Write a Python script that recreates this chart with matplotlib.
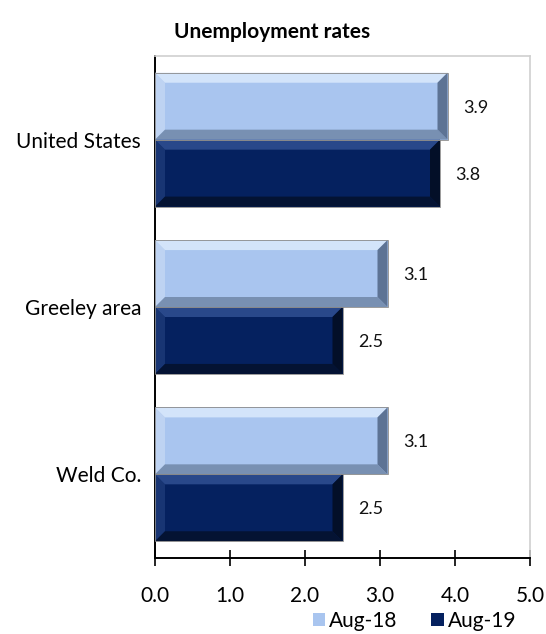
import matplotlib.pyplot as plt
from matplotlib.patches import Polygon
import numpy as np

plt.rcParams['font.family'] = ['Lato', 'DejaVu Sans']

categories = ['United States', 'Greeley area', 'Weld Co.']
aug18 = [3.9, 3.1, 3.1]
aug19 = [3.8, 2.5, 2.5]
series_names = ['Aug-18', 'Aug-19']
xticks = [0.0, 1.0, 2.0, 3.0, 4.0, 5.0]

light = {'face': '#a9c5ef', 'top': '#d3e4fa', 'left': '#bed3f2', 'bottom': '#7890b2', 'right': '#5d7394'}
dark = {'face': '#05215f', 'top': '#29488a', 'left': '#183573', 'bottom': '#041333', 'right': '#030f28'}


def bevel(ax, patch, cols, px=10):
    # draw the four bevel strips around a bar, sized in pixels
    x0, y0 = patch.get_x(), patch.get_y()
    w, h = patch.get_width(), patch.get_height()
    inv = ax.transData.inverted()
    o = inv.transform(ax.transData.transform((0, 0)))
    p = inv.transform(ax.transData.transform((0, 0)) + np.array([px, px]))
    dx, dy = abs(p[0] - o[0]), abs(p[1] - o[1])
    x1, y1 = x0 + w, y0 + h
    # y axis inverted: y0 is the top of the bar on screen
    top = [(x0, y0), (x1, y0), (x1 - dx, y0 + dy), (x0 + dx, y0 + dy)]
    bot = [(x0, y1), (x1, y1), (x1 - dx, y1 - dy), (x0 + dx, y1 - dy)]
    right = [(x1, y0), (x1, y1), (x1 - dx, y1 - dy), (x1 - dx, y0 + dy)]
    left = [(x0, y0), (x0, y1), (x0 + dx, y1 - dy), (x0 + dx, y0 + dy)]
    for pts, c in [(left, cols['left']), (top, cols['top']), (bot, cols['bottom']), (right, cols['right'])]:
        ax.add_patch(Polygon(pts, closed=True, facecolor=c, edgecolor='none', zorder=3))
    ax.add_patch(Polygon([(x0, y0), (x1, y0), (x1, y1), (x0, y1)], closed=True,
                         facecolor='none', edgecolor='#8a8a8a', lw=0.6, zorder=4))


fig = plt.figure(figsize=(5.46, 6.34), dpi=100)
ax = fig.add_axes([155 / 546, 1 - 558 / 634, 375 / 546, 502 / 634])

y = np.arange(len(categories))
hgt = 0.4
b1 = ax.barh(y - hgt / 2, aug18, height=hgt, color=light['face'], zorder=2, label=series_names[0])
b2 = ax.barh(y + hgt / 2, aug19, height=hgt, color=dark['face'], zorder=2, label=series_names[1])

ax.set_xlim(0, 5)
ax.set_ylim(len(categories) - 0.5, -0.5)

for p in b1:
    bevel(ax, p, light)
for p in b2:
    bevel(ax, p, dark)

for bars, vals in [(b1, aug18), (b2, aug19)]:
    for p, v in zip(bars, vals):
        ax.annotate(f'{v:.1f}', (p.get_width(), p.get_y() + p.get_height() / 2),
                    xytext=(11, -1), textcoords='offset points', va='center', ha='left',
                    fontsize=13, color='#111111')

ax.set_yticks(y)
ax.set_yticklabels(categories, fontsize=15)
ax.set_xticks(xticks)
ax.set_xticklabels([f'{t:.1f}' for t in xticks], fontsize=15)
ax.tick_params(axis='y', length=0, pad=10)
ax.tick_params(axis='x', direction='inout', length=12, width=1.2, pad=14)

for s in ['top', 'right']:
    ax.spines[s].set_color('#d0d0d0')
    ax.spines[s].set_linewidth(1.2)
for s in ['left', 'bottom']:
    ax.spines[s].set_color('black')
    ax.spines[s].set_linewidth(1.4)

fig.text(272 / 546, 1 - 32 / 634, 'Unemployment rates', ha='center', va='center',
         fontsize=15, fontweight='bold')

fig.legend(handles=[b1, b2], labels=series_names, loc='lower right',
           bbox_to_anchor=(535 / 546, -0.025), ncol=2, frameon=False, fontsize=15,
           handlelength=0.6, handleheight=0.6, handletextpad=0.2, columnspacing=1.6)

fig.savefig('out.png', dpi=100)
